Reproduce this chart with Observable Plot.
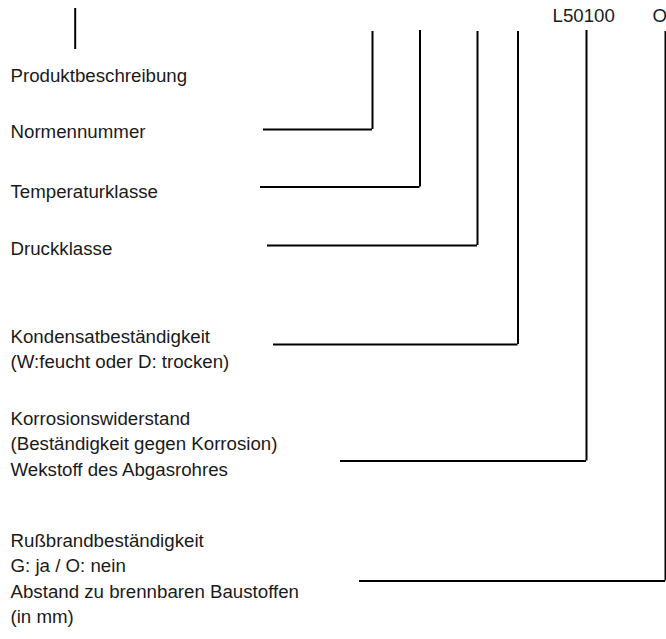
<!DOCTYPE html>
<html>
<head>
<meta charset="utf-8">
<script src="https://cdn.jsdelivr.net/npm/d3@7"></script>
<script src="https://cdn.jsdelivr.net/npm/@observablehq/plot@0.6"></script>
<style>
  html, body { margin: 0; padding: 0; background: #fff; }
  #chart svg { display: block; }
</style>
</head>
<body>
<div id="chart"></div>
<script>
// Code segments shown at the top of the designation
const codeLabels = ["L50100", "O"];
const codeX = [552, 652];
const codeY = [15];

// Description blocks (one array of lines per block)
const descriptions = [
  ["Produktbeschreibung"],
  ["Normennummer"],
  ["Temperaturklasse"],
  ["Druckklasse"],
  ["Kondensatbeständigkeit", "(W:feucht oder D: trocken)"],
  ["Korrosionswiderstand", "(Beständigkeit gegen Korrosion)", "Wekstoff des Abgasrohres"],
  ["Rußbrandbeständigkeit", "G: ja / O: nein", "Abstand zu brennbaren Baustoffen", "(in mm)"]
];
const descFirstY = [75, 131, 190.7, 248, 336, 418, 540];
const descLineStep = [25.2];
const descX = [10];

// Leader lines: vertical drop at connectorX from connectorTop to connectorY,
// then horizontal to connectorStart
const connectorX = [372, 419.5, 477, 517.5, 586, 665];
const connectorTop = [31, 30, 31, 31, 30, 31];
const connectorY = [129, 186.5, 245, 344, 460.5, 580.5];
const connectorStart = [263, 260, 267, 273, 340, 359];

// Leader for "Produktbeschreibung"
const productX = [74.7];
const productY = [8, 49];

// ---- build tables from the arrays ----
const textRows = descriptions.flatMap((lines, b) =>
  lines.map((t, i) => ({text: t, x: descX[0], y: descFirstY[b] + i * descLineStep[0] + 0.7}))
);
const codeRows = codeLabels.map((t, i) => ({text: t, x: codeX[i], y: codeY[0] + 0.7}));
const vRules = connectorX.map((x, i) => ({x, y1: connectorTop[i], y2: connectorY[i]}))
  .concat([{x: productX[0], y1: productY[0], y2: productY[1]}]);
const hRules = connectorY.map((y, i) => ({y, x1: connectorStart[i], x2: connectorX[i]}));

const chart = Plot.plot({
  width: 666,
  height: 639,
  margin: 0,
  x: {domain: [0, 666], range: [0, 666], axis: null},
  y: {domain: [0, 639], range: [0, 639], axis: null},
  style: {fontFamily: "'Liberation Sans', Arial, sans-serif", background: "#fff"},
  marks: [
    Plot.ruleX(vRules, {x: "x", y1: "y1", y2: "y2", stroke: "#000", strokeWidth: 2}),
    Plot.ruleY(hRules, {y: "y", x1: "x1", x2: "x2", stroke: "#000", strokeWidth: 2}),
    Plot.text(textRows, {x: "x", y: "y", text: "text", textAnchor: "start", lineAnchor: "middle", fontSize: 18.7, fill: "#1a1a1a"}),
    Plot.text(codeRows, {x: "x", y: "y", text: "text", textAnchor: "start", lineAnchor: "middle", fontSize: 18.7, fill: "#1a1a1a"})
  ]
});
document.getElementById("chart").appendChild(chart);
</script>
</body>
</html>
